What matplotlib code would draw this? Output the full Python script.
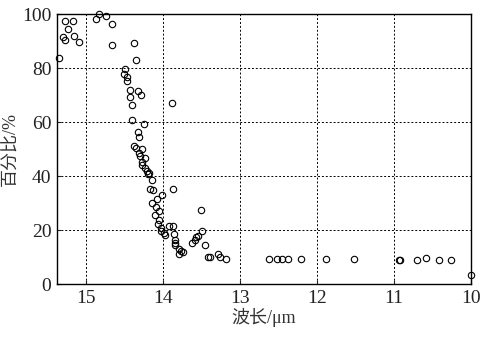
import matplotlib
matplotlib.use("Agg")
from matplotlib import pyplot as plt

# wavelength (um) and percentage
wavelength = [15.35, 15.30, 15.28, 15.27, 15.24, 15.17, 15.16, 15.10,
              14.87, 14.83, 14.74, 14.67, 14.66, 14.38, 14.35,
              14.50, 14.51, 14.47, 14.47, 14.43, 14.33, 14.29, 14.43, 14.40,
              13.89, 14.40, 14.25, 14.33, 14.31, 14.38, 14.35, 14.28, 14.31,
              14.30, 14.24, 14.28, 14.27, 14.24, 14.21, 14.19, 14.20, 14.15,
              14.17, 14.13, 13.87, 14.02, 14.08, 14.14, 14.09, 14.06, 14.10,
              14.05, 14.07, 13.93, 13.87, 14.03, 14.03, 13.99, 13.97, 13.86,
              13.85, 13.84, 13.84, 13.79, 13.77, 13.74, 13.80,
              13.51, 13.49, 13.55, 13.57, 13.59, 13.62, 13.46, 13.42, 13.39,
              13.29, 13.26, 13.18,
              12.63, 12.52, 12.46, 12.38, 12.21, 11.88, 11.52,
              10.93, 10.92, 10.70, 10.58, 10.41, 10.26, 10.00]
percent = [83.6, 91.6, 97.4, 90.6, 94.4, 97.5, 92.0, 89.7,
           98.1, 100.0, 99.4, 96.4, 88.7, 89.4, 83.0,
           79.5, 78.0, 76.6, 75.1, 72.0, 71.6, 70.1, 69.4, 66.3,
           67.1, 60.9, 59.3, 56.4, 54.6, 51.2, 50.4, 49.9, 48.5,
           47.4, 46.7, 45.2, 44.1, 43.0, 42.0, 41.3, 40.6, 38.7,
           35.1, 35.0, 35.1, 33.1, 31.5, 30.0, 28.4, 26.9, 25.7,
           23.7, 22.2, 21.7, 21.6, 20.9, 19.7, 18.9, 18.3, 18.7,
           16.5, 15.4, 14.4, 13.1, 12.3, 12.0, 11.1,
           27.6, 19.6, 18.0, 17.3, 16.5, 15.4, 14.4, 10.0, 10.0,
           11.2, 10.0, 9.4,
           9.4, 9.4, 9.4, 9.4, 9.4, 9.4, 9.4,
           9.1, 9.1, 9.1, 9.5, 9.1, 9.1, 3.4]

x_ticks = [15, 14, 13, 12, 11, 10]
y_ticks = [0, 20, 40, 60, 80, 100]

fonts = ['Liberation Serif', 'Noto Sans CJK SC']
plt.rcParams['font.family'] = fonts

fig = plt.figure(figsize=(4.81, 3.37), dpi=100)
ax = fig.add_axes([0.1185, 0.157, 0.8605, 0.801])

ax.plot(wavelength, percent, linestyle='none', marker='o', markersize=4.6,
        markerfacecolor='none', markeredgecolor='black', markeredgewidth=0.8,
        clip_on=False, zorder=3)

ax.set_xlim(15.38, 10)
ax.set_ylim(0, 100)
ax.set_xticks(x_ticks)
ax.set_yticks(y_ticks)
ax.grid(True, color='black', linestyle=(0, (2, 2)), linewidth=0.7)
ax.tick_params(direction='in', length=3, labelsize=14, colors='#222222', pad=4)
for s in ax.spines.values():
    s.set_linewidth(1.0)

ax.set_xlabel('波长/μm', fontsize=13, labelpad=1, color='#333333')
ax.set_ylabel('百分比/%', fontsize=13, labelpad=2, color='#333333')

fig.savefig('out.png', dpi=100)
